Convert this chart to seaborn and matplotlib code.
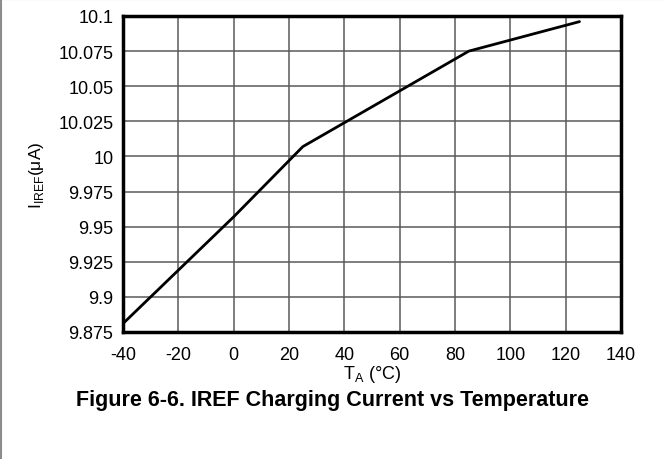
import matplotlib
matplotlib.use("Agg")
import matplotlib.pyplot as plt
import seaborn as sns
import pandas as pd
from matplotlib.lines import Line2D

temps = [-40, 0, 25, 40, 85, 125]
iref = [9.881, 9.957, 10.007, 10.024, 10.075, 10.096]
xticks = [-40, -20, 0, 20, 40, 60, 80, 100, 120, 140]
yticks = [9.875, 9.9, 9.925, 9.95, 9.975, 10.0, 10.025, 10.05, 10.075, 10.1]
ytick_labels = ["9.875", "9.9", "9.925", "9.95", "9.975", "10", "10.025", "10.05", "10.075", "10.1"]

sns.set_theme(style="white")
plt.rcParams['font.family'] = ['Liberation Sans', 'DejaVu Sans']
plt.rcParams['mathtext.fontset'] = 'custom'
plt.rcParams['mathtext.rm'] = 'Liberation Sans'

df = pd.DataFrame({"T": temps, "I": iref})

fig = plt.figure(figsize=(6.64, 4.6), dpi=100)
ax = fig.add_axes([123/664, 1 - 333/460, (621-123)/664, (333-17)/460])
sns.lineplot(data=df, x="T", y="I", ax=ax, color="black", linewidth=2.0)

ax.set_xlim(-40, 140)
ax.set_ylim(9.875, 10.1)
ax.set_xticks(xticks)
ax.set_xticklabels([str(t) for t in xticks])
ax.set_yticks(yticks)
ax.set_yticklabels(ytick_labels)
ax.grid(True, color="#5a5a5a", linewidth=1.1)
ax.set_axisbelow(True)
for s in ax.spines.values():
    s.set_visible(True)
    s.set_color("black")
    s.set_linewidth(2.5)
ax.tick_params(axis="both", length=0, labelsize=13, colors="black")
ax.tick_params(axis="y", pad=7)
ax.tick_params(axis="x", pad=10)
ax.set_xlabel(r"T$_{\mathregular{A}}$ (°C)", fontsize=13, labelpad=0, color="black")
ax.set_ylabel(r"I$_{\mathregular{IREF}}$(μA)", fontsize=12.5, labelpad=9, color="black")

fig.text(332/664, 1 - 401/460, "Figure 6-6. IREF Charging Current vs Temperature",
         ha="center", va="center", fontsize=15.5, fontweight="bold", color="black")

fig.add_artist(Line2D([0, 1], [0.999, 0.999], transform=fig.transFigure, color="#8c8c8c", linewidth=1.5))
fig.add_artist(Line2D([0.001, 0.001], [0, 1], transform=fig.transFigure, color="#8c8c8c", linewidth=1.5))

fig.savefig("out.png", dpi=100)
